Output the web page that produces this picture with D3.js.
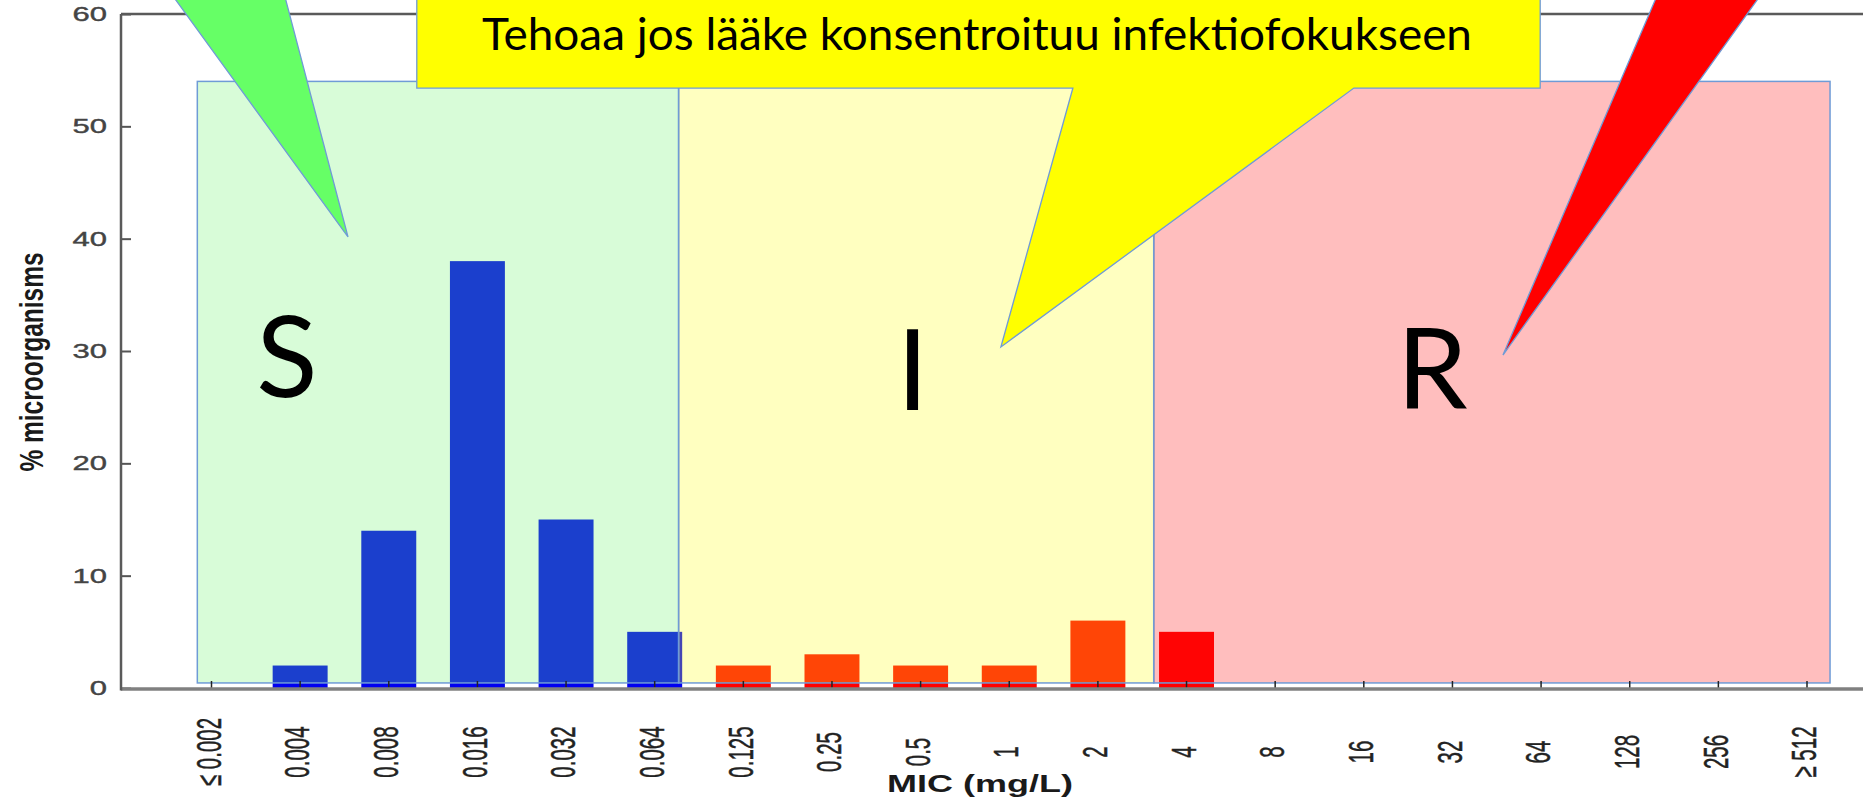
<!DOCTYPE html>
<html>
<head>
<meta charset="utf-8">
<script src="https://cdn.jsdelivr.net/npm/d3@7"></script>
<style>
  html, body { margin: 0; padding: 0; background: #fff; overflow: hidden; }
  svg { display: block; }
</style>
</head>
<body>
<svg id="chart" width="1863" height="798"></svg>
<script>
// -----------------------------
// Data
// -----------------------------
const categories = ["≤ 0.002", "0.004", "0.008", "0.016", "0.032", "0.064", "0.125", "0.25", "0.5",
                    "1", "2", "4", "8", "16", "32", "64", "128", "256", "≥ 512"]; // MIC (mg/L)
const percentages = [0, 2, 14, 38, 15, 5, 2, 3, 2, 2, 6, 5, 0, 0, 0, 0, 0, 0, 0];    // % microorganisms
const blueCategories = ["≤ 0.002", "0.004", "0.008", "0.016", "0.032", "0.064"];     // drawn blue in the original
const yTicks = [0, 10, 20, 30, 40, 50, 60];

const zoneNames = ["S", "I", "R"];
const calloutText = "Tehoaa jos lääke konsentroituu infektiofokukseen";

// -----------------------------
// Layout + scales
// -----------------------------
const svg = d3.select("#chart");
const left = 121, firstX = 211.5, lastX = 1807;

const x = d3.scalePoint().domain(categories).range([firstX, lastX]);                // category centres
const xi = d3.scaleLinear().domain([0, categories.length - 1]).range([firstX, lastX]); // fractional index
const y = d3.scaleLinear().domain([0, 60]).range([688, 14]);
const pt = (i, v) => [xi(i), y(v)]; // annotation helper: (category index, %) -> px

// Zone boxes (category index units, % units)
const zones = [
    { name: zoneNames[0], i0: -0.16, i1: 5.27,  fill: "rgb(105,243,105)", op: 0.26, letter: [0.85, 25.9] },
    { name: zoneNames[1], i0: 5.27,  i1: 10.63, fill: "rgb(255,255,22)",  op: 0.27, letter: [7.91, 24.75] },
    { name: zoneNames[2], i0: 10.63, i1: 18.26, fill: "rgb(255,15,15)",   op: 0.27, letter: [13.77, 24.84] }
];
const zoneTop = 54, zoneBottom = 0.45;

// -----------------------------
// Bars (original colours, overlays tint them)
// -----------------------------
const barW = x.step() * 0.62;
svg.append("g").attr("class", "bars")
    .selectAll("rect")
    .data(categories.map((c, i) => ({ c, v: percentages[i] })))
    .join("rect")
    .attr("x", d => x(d.c) - barW / 2)
    .attr("width", barW)
    .attr("y", d => y(d.v))
    .attr("height", d => y(0) - y(d.v))
    .attr("fill", d => blueCategories.includes(d.c) ? "#0000f0" : "#ff0000");

// -----------------------------
// Zone overlays
// -----------------------------
svg.append("g").attr("class", "zones")
    .selectAll("rect")
    .data(zones)
    .join("rect")
    .attr("x", d => xi(d.i0))
    .attr("width", d => xi(d.i1) - xi(d.i0))
    .attr("y", y(zoneTop))
    .attr("height", y(zoneBottom) - y(zoneTop))
    .attr("fill", d => d.fill)
    .attr("fill-opacity", d => d.op)
    .attr("stroke", "#6f9bd6")
    .attr("stroke-width", 1.5);

// -----------------------------
// Axes + frame
// -----------------------------
const yAxis = svg.append("g")
    .attr("transform", `translate(${left},0)`)
    .call(d3.axisLeft(y).tickValues(yTicks).tickSize(-10).tickPadding(0));
yAxis.select(".domain").remove();
yAxis.selectAll(".tick line").attr("stroke", "#555").attr("stroke-width", 2);
yAxis.selectAll(".tick text")
    .attr("x", null)
    .attr("transform", "translate(-14,0) scale(1.55,1)")
    .attr("font-family", "'Liberation Sans', Arial, sans-serif")
    .attr("font-size", 20)
    .attr("stroke", "#444").attr("stroke-width", 0.4)
    .attr("fill", "#444");

// x ticks + rotated labels
const xTicks = svg.append("g").attr("class", "x-ticks")
    .selectAll("g")
    .data(categories)
    .join("g")
    .attr("transform", d => `translate(${x(d)},${y(0)})`);
xTicks.append("line")
    .attr("y1", 0).attr("y2", -7)
    .attr("stroke", "#222").attr("stroke-width", 1.5);
xTicks.append("text")
    .attr("dy", "0.35em")
    .attr("text-anchor", "middle")
    .attr("transform", "translate(-3,64) scale(1.7,1) rotate(-90)")
    .attr("font-family", "'Liberation Sans', Arial, sans-serif")
    .attr("font-size", 20.5)
    .attr("stroke", "#222").attr("stroke-width", 0.3)
    .attr("fill", "#222")
    .text(d => d);

// frame lines
svg.append("line").attr("x1", left).attr("x2", 1863).attr("y1", y(0) + 1).attr("y2", y(0) + 1)
    .attr("stroke", "#808080").attr("stroke-width", 3.5);
svg.append("line").attr("x1", left).attr("x2", 1863).attr("y1", y(60)).attr("y2", y(60))
    .attr("stroke", "#5a5a5a").attr("stroke-width", 2.5);
svg.append("line").attr("x1", left).attr("x2", left).attr("y1", y(60)).attr("y2", y(0) + 2.5)
    .attr("stroke", "#5a5a5a").attr("stroke-width", 2.5);

// axis titles
svg.append("text")
    .attr("transform", "translate(31,362) scale(1.35,1) rotate(-90)")
    .attr("text-anchor", "middle").attr("dy", "0.35em")
    .attr("font-family", "'Liberation Sans', Arial, sans-serif")
    .attr("font-weight", "bold").attr("font-size", 24.5).attr("fill", "#1a1a1a")
    .text("% microorganisms");

svg.append("text")
    .attr("transform", "translate(980,792) scale(1.5,1)")
    .attr("text-anchor", "middle")
    .attr("font-family", "'Liberation Sans', Arial, sans-serif")
    .attr("font-weight", "bold").attr("font-size", 24).attr("fill", "#1a1a1a")
    .text("MIC (mg/L)");

// -----------------------------
// Zone letters
// -----------------------------
svg.append("g").attr("class", "letters")
    .selectAll("text")
    .data(zones)
    .join("text")
    .attr("x", d => xi(d.letter[0]))
    .attr("y", d => y(d.letter[1]))
    .attr("text-anchor", "middle")
    .attr("font-family", "Lato, 'Open Sans', sans-serif")
    .attr("font-size", 113)
    .attr("fill", "#000")
    .text(d => d.name);

// -----------------------------
// Callouts (wedges + yellow box)
// -----------------------------
const line = d3.line();
const callouts = [
    { fill: "#66ff66", pts: [pt(-0.73, 64.8), pt(0.72, 64.8), pt(1.54, 40.15)] },
    { fill: "#ff0000", pts: [pt(16.48, 64.8), pt(17.76, 64.8), pt(14.57, 29.64)] },
    { fill: "#ffff00", pts: [pt(2.316, 64.8), pt(14.99, 64.8), pt(14.99, 53.41), pt(12.888, 53.41),
                              pt(8.906, 30.36), pt(9.718, 53.41), pt(2.316, 53.41)] }
];
svg.append("g").attr("class", "callouts")
    .selectAll("path")
    .data(callouts)
    .join("path")
    .attr("d", d => line(d.pts) + "Z")
    .attr("fill", d => d.fill)
    .attr("stroke", "#6f9bd6")
    .attr("stroke-width", 1.3);

svg.append("text")
    .attr("x", xi(8.636))
    .attr("y", y(56.8))
    .attr("text-anchor", "middle")
    .attr("font-family", "Lato, 'Open Sans', sans-serif")
    .attr("font-size", 45)
    .attr("textLength", 990)
    .attr("lengthAdjust", "spacingAndGlyphs")
    .attr("fill", "#000")
    .text(calloutText);
</script>
</body>
</html>
